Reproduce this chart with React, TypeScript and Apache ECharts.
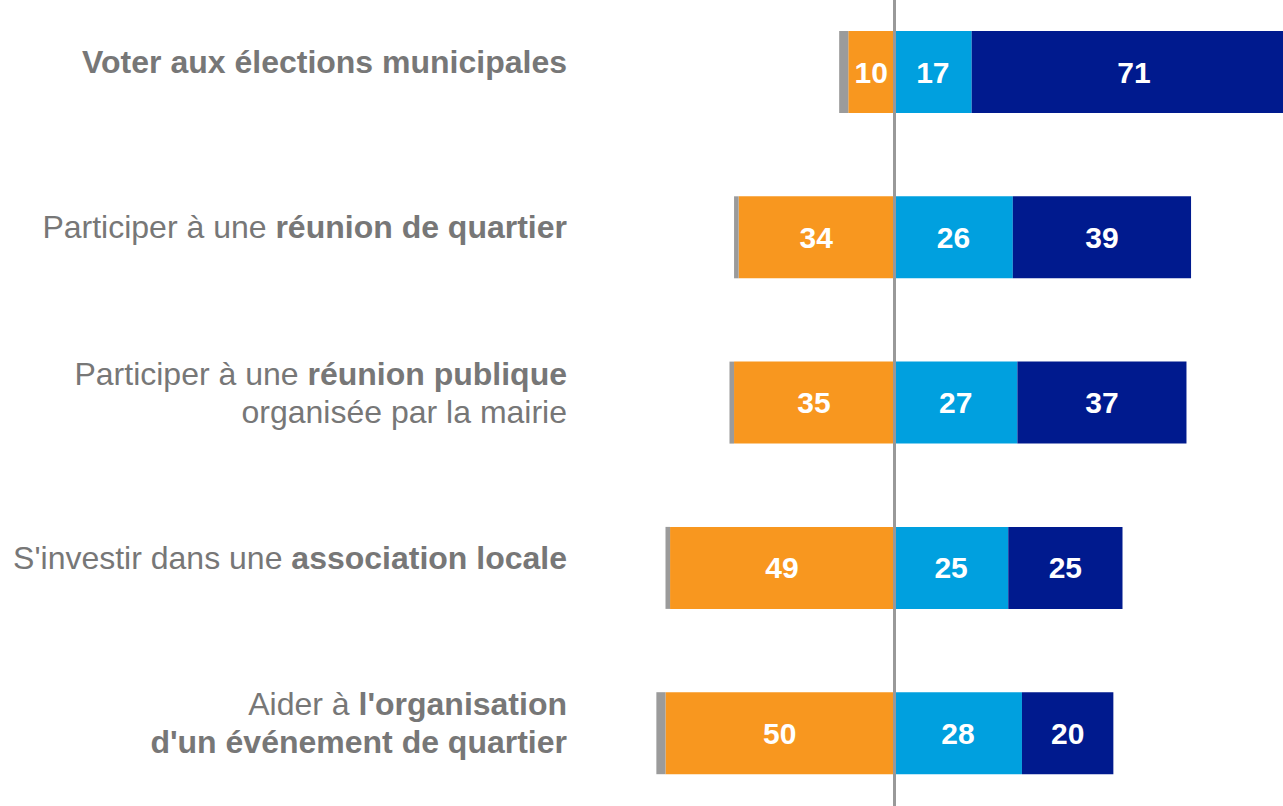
import React, { useEffect, useRef } from "react";
import * as echarts from "echarts";

const categories = [
  "{b|Voter aux élections municipales}",
  "Participer à une {b|réunion de quartier}",
  "Participer à une {b|réunion publique}\norganisée par la mairie",
  "S'investir dans une {b|association locale}",
  "Aider à {b|l'organisation}\n{b|d'un événement de quartier}",
];
const nspValues = [2, 1, 1, 1, 2];
const pasDuToutValues = [10, 34, 35, 49, 50];
const plutotValues = [17, 26, 27, 25, 28];
const toutAFaitValues = [71, 39, 37, 25, 20];

const ORANGE = "#F8971F";
const LIGHT = "#00A0DF";
const DARK = "#001A8E";
const GREY = "#9B9B9B";

export default function App() {
  const ref = useRef<HTMLDivElement>(null);
  useEffect(() => {
    if (!ref.current) return;
    const chart = echarts.init(ref.current, null, { renderer: "svg" });
    const label = {
      show: true,
      position: "inside",
      color: "#ffffff",
      fontFamily: "Liberation Sans, Arial, sans-serif",
      fontWeight: "bold",
      fontSize: 30,
      formatter: (p: any) => String(Math.abs(p.value)),
    };
    chart.setOption({
      animation: false,
      grid: {
        left: 437,
        width: 914,
        top: 9.35,
        height: 826.5,
        containLabel: false,
        outerBoundsMode: "none",
      },
      xAxis: {
        type: "value",
        min: -100,
        max: 100,
        show: false,
      },
      yAxis: {
        type: "category",
        inverse: true,
        data: categories,
        z: 10,
        axisLine: { show: true, onZero: true, lineStyle: { color: "#999999", width: 3 } },
        axisTick: { show: false },
        axisLabel: {
          margin: -130,
          color: "#777777",
          fontFamily: "Liberation Sans, Arial, sans-serif",
          fontSize: 32,
          lineHeight: 38,
          align: "right",
          padding: [0, 0, 20, 0],
          rich: {
            b: {
              color: "#777777",
              fontFamily: "Liberation Sans, Arial, sans-serif",
              fontSize: 32,
              fontWeight: "bold",
              lineHeight: 38,
            },
          },
        },
      },
      series: [
        {
          name: "Pas du tout",
          type: "bar",
          stack: "total",
          barWidth: 82,
          itemStyle: { color: ORANGE },
          label,
          data: pasDuToutValues.map((v) => -v),
        },
        {
          name: "NSP",
          type: "bar",
          stack: "total",
          barWidth: 82,
          itemStyle: { color: GREY },
          label: { show: false },
          data: nspValues.map((v) => -v),
        },
        {
          name: "Plutôt",
          type: "bar",
          stack: "total",
          barWidth: 82,
          itemStyle: { color: LIGHT },
          label,
          data: plutotValues,
        },
        {
          name: "Tout à fait",
          type: "bar",
          stack: "total",
          barWidth: 82,
          itemStyle: { color: DARK },
          label,
          data: toutAFaitValues,
        },
      ],
    });
    return () => chart.dispose();
  }, []);
  return (
    <div
      style={{
        position: "fixed",
        left: 0,
        top: 0,
        width: 1283,
        height: 806,
        overflow: "hidden",
        background: "#ffffff",
      }}
    >
      <div
        ref={ref}
        style={{ position: "absolute", left: 0, top: -20, width: 1400, height: 846 }}
      />
    </div>
  );
}
